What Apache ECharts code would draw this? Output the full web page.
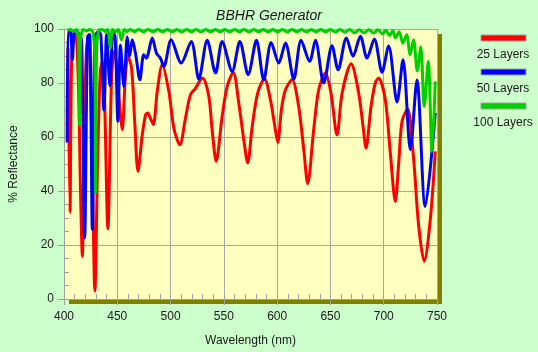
<!DOCTYPE html>
<html>
<head>
<meta charset="utf-8">
<script src="https://cdn.jsdelivr.net/npm/echarts@6/dist/echarts.min.js"></script>
<style>
  html, body { margin: 0; padding: 0; background: #ccffcc; }
  #chart { width: 538px; height: 352px; }
</style>
</head>
<body>
<div id="chart"></div>
<script>
// wavelength (nm) / reflectance (%)
var redWl = [403.7, 405.6, 407.2, 409.5, 411, 413.5, 415.5, 417.2, 419.5, 421.9, 424, 426.5, 429, 431.5, 434, 436, 438, 441.2, 444.5, 446.9, 449, 451.5, 454.7, 457.5, 460, 463.4, 466.5, 469.4, 473.5, 476.6, 478.7, 481, 483.8, 487.5, 492.2, 498.4, 503.1, 508.7, 514, 518.7, 523.5, 528, 530.3, 535.9, 539, 542.8, 548.4, 553.1, 558.8, 564, 568.7, 572.4, 576.6, 581.8, 588.1, 593.7, 597.8, 600.6, 604, 607.8, 614, 620.2, 625, 628.7, 634.3, 639, 645.3, 650.5, 656.2, 661, 669.4, 676.5, 680.6, 683.4, 688.1, 692.1, 695.2, 701.5, 706.2, 710.9, 714, 717.2, 722.4, 728, 732.7, 738, 743.7, 748.4]
var redR = [93, 32, 89, 97, 98, 80, 40, 15.8, 70, 95, 92, 50, 3, 50, 84, 88, 75, 26, 80, 91.7, 88, 75, 62.7, 82, 89.9, 85.5, 64.6, 47.3, 60.9, 68.3, 68.9, 67, 64.6, 76.9, 86.8, 76.9, 63.3, 57.1, 67, 75.7, 78.1, 81.2, 81.8, 75, 62.7, 51, 67.6, 78.7, 83.9, 72.6, 59, 50.4, 63.9, 76.3, 81.6, 73.8, 64, 58, 70.1, 77.5, 81.2, 71.3, 55.3, 42.7, 62.7, 77.5, 83.7, 76.3, 60.8, 76.3, 87.1, 76.3, 64, 55.9, 71.3, 80, 81.8, 73.8, 54.1, 36.1, 50, 65.8, 70.4, 52.2, 27.5, 14, 29.4, 54.7]

var blueWl = [403, 403.8, 406, 407.9, 409.5, 412, 414, 416.5, 419.4, 422, 424, 426.6, 429, 432, 434.5, 437.5, 440, 443.1, 446, 448, 450.6, 453, 456.2, 459.4, 461.6, 464.1, 467.5, 471.2, 474.8, 477.3, 482.8, 486.8, 490.5, 493.7, 500.6, 510, 519.4, 526.5, 534.4, 542.2, 548.4, 557.8, 565, 572.8, 580.6, 587.4, 594.4, 601.5, 607.8, 615.6, 622.5, 630.5, 635.9, 643.7, 651.5, 657.2, 665, 671.2, 678.1, 684.3, 691.2, 698.4, 704.6, 712.5, 718.1, 725, 731.2, 739, 748.4]
var blueR = [58, 99, 99, 88.6, 99, 99.5, 98, 96, 22.6, 97, 98, 25.7, 97, 99, 98, 70, 98, 79, 99, 97, 65.8, 94, 78.7, 97, 90, 96, 90, 81.2, 90.5, 89.2, 96.7, 91, 89.2, 86.1, 96, 87.4, 95.4, 81.5, 95.8, 83.7, 95.4, 84.3, 95.4, 83.1, 95.8, 81.2, 95, 87.4, 94.8, 81.5, 95.8, 88, 95.8, 80, 93.8, 84.9, 96.7, 89.9, 97.3, 89.2, 96.3, 84, 93.7, 73, 88.6, 55.3, 81.1, 34.3, 68.9]

var greenWl = [403, 406, 409, 411.5, 413.6, 414.6, 415.6, 418, 421, 424, 427, 428.9, 429.7, 430.5, 432.5, 436, 439, 441, 443.5, 445.5, 448.5, 451, 454, 456.5, 459, 462, 466, 470, 474.5, 479, 483.5, 488, 492.5, 497, 501.5, 506, 510.5, 515, 519.5, 524, 528.5, 533, 537.5, 542, 546.5, 551, 555.5, 560, 564.5, 569, 573.5, 578, 582.5, 587, 591.5, 596, 600.5, 605, 609.5, 614, 618.5, 623, 627.5, 632, 636.5, 641, 645.5, 650, 654.5, 659, 663.5, 668, 672.5, 677, 681.5, 686, 690.5, 694.5, 699, 702, 705.5, 708.5, 711, 714.5, 718, 721.5, 724.8, 728, 731.5, 734.8, 738, 741.8, 745.3, 748.4]
var greenR = [99.5, 99.8, 99.2, 99.8, 96, 64.5, 96, 99.8, 99.3, 99.8, 99, 90, 39.3, 90, 99.5, 99.8, 99, 99.8, 93, 99.8, 99, 99.8, 96, 99.8, 99, 99.8, 99, 99.8, 99, 99.8, 99, 99.8, 99, 99.8, 99, 99.8, 98.9, 99.8, 99, 99.8, 98.9, 99.8, 99, 99.8, 99, 99.8, 98.9, 99.8, 99, 99.8, 98.9, 99.8, 99, 99.8, 99, 99.8, 99, 99.8, 98.9, 99.8, 99, 99.8, 98.9, 99.8, 99, 99.8, 99, 99.8, 98.9, 99.8, 98.8, 99.8, 98.6, 99.7, 98.6, 99.7, 98.5, 99.7, 98.2, 99.5, 97.6, 99.4, 96.7, 99, 94.8, 97.9, 90.5, 96, 84.5, 93.3, 71.3, 88, 54.7, 80.6]

var seriesNames = ['25 Layers', '50 Layers', '100 Layers']
var seriesColors = ['#ff0000', '#0000ff', '#00d000']
var xTicks = [400, 450, 500, 550, 600, 650, 700, 750]
var yTicks = [0, 20, 40, 60, 80, 100]

function pairs(xs, ys) {
  return xs.map(function (x, i) { return [x, ys[i]] })
}

var chartDom = document.getElementById('chart')
var myChart = echarts.init(chartDom, null, { renderer: 'canvas' })
var option

var labelFont = { color: '#1a1a1a', fontFamily: 'Liberation Sans', fontSize: 12 }

var legendGraphic = []
seriesNames.forEach(function (name, i) {
  legendGraphic.push({
    type: 'rect',
    shape: { x: 481, y: 35 + i * 34, width: 45, height: 6 },
    style: { fill: seriesColors[i], stroke: '#a0a0a0', lineWidth: 1 }
  })
  legendGraphic.push({
    type: 'text',
    x: 503,
    y: 54.5 + i * 34,
    style: {
      text: name, align: 'center', verticalAlign: 'middle',
      font: '12px "Liberation Sans"', fill: '#1a1a1a'
    }
  })
})

option = {
  backgroundColor: '#ccffcc',
  animation: false,
  title: {
    text: 'BBHR Generator',
    left: 'center',
    top: 4,
    textStyle: { fontFamily: 'Liberation Sans', fontSize: 14, fontStyle: 'italic', fontWeight: 'normal', color: '#1a1a1a' }
  },
  grid: {
    left: 63, top: 29, width: 374, height: 270,
    show: true,
    backgroundColor: '#ffffc0',
    borderWidth: 0,
    shadowColor: '#808000',
    shadowOffsetX: 5,
    shadowOffsetY: 5,
    shadowBlur: 0
  },
  xAxis: [
    {
      type: 'value', min: xTicks[0], max: xTicks[xTicks.length - 1], interval: 50,
      name: 'Wavelength (nm)', nameLocation: 'middle', nameGap: 36,
      nameTextStyle: labelFont,
      axisLine: { show: true, lineStyle: { color: '#a0a0a0', width: 1 } },
      axisTick: { show: true, inside: false, length: 6, lineStyle: { color: '#a0a0a0' } },
      axisLabel: Object.assign({ margin: 12 }, labelFont),
      splitLine: { show: true, lineStyle: { color: '#a8a8a8', width: 1 } }
    },
    {
      type: 'value', min: 400, max: 750, interval: 10, position: 'bottom',
      axisLine: { show: false },
      axisTick: { show: true, inside: true, length: 5, lineStyle: { color: '#a0a0a0' } },
      axisLabel: { show: false },
      splitLine: { show: false }
    }
  ],
  yAxis: [
    {
      type: 'value', min: yTicks[0], max: yTicks[yTicks.length - 1], interval: 20,
      name: '% Reflectance', nameLocation: 'middle', nameGap: 44, nameRotate: 90,
      nameTextStyle: labelFont,
      axisLine: { show: true, lineStyle: { color: '#a0a0a0', width: 1 } },
      axisTick: { show: true, inside: false, length: 6, lineStyle: { color: '#a0a0a0' } },
      axisLabel: Object.assign({ margin: 10 }, labelFont),
      splitLine: { show: true, lineStyle: { color: '#a8a8a8', width: 1 } }
    },
    {
      type: 'value', min: 0, max: 100, interval: 5, position: 'left',
      axisLine: { show: false },
      axisTick: { show: true, inside: true, length: 5, lineStyle: { color: '#a0a0a0' } },
      axisLabel: { show: false },
      splitLine: { show: false }
    }
  ],
  graphic: legendGraphic,
  series: [
    {
      name: seriesNames[0], type: 'line', xAxisIndex: 0, yAxisIndex: 0,
      data: pairs(redWl, redR), showSymbol: false, smooth: 0.3,
      lineStyle: { color: seriesColors[0], width: 3 }, z: 3
    },
    {
      name: seriesNames[1], type: 'line', xAxisIndex: 0, yAxisIndex: 0,
      data: pairs(blueWl, blueR), showSymbol: false, smooth: 0.3,
      lineStyle: { color: seriesColors[1], width: 3 }, z: 4
    },
    {
      name: seriesNames[2], type: 'line', xAxisIndex: 0, yAxisIndex: 0,
      data: pairs(greenWl, greenR), showSymbol: false, smooth: 0.3,
      lineStyle: { color: seriesColors[2], width: 3 }, z: 5
    }
  ]
}

option && myChart.setOption(option)
</script>
</body>
</html>
